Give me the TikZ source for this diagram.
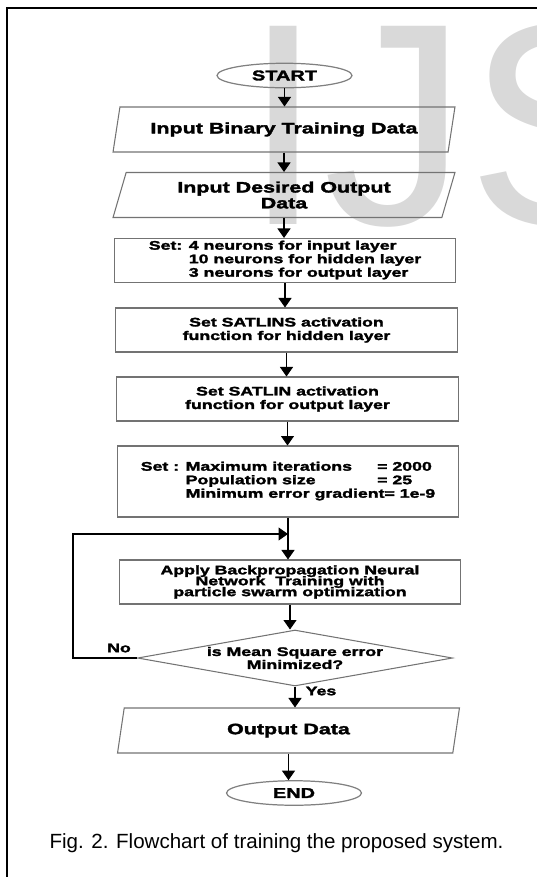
\documentclass[tikz,border=0pt]{standalone}
\usepackage{fontspec}
\setmainfont{Liberation Sans}
\newfontfamily\chartfont{Liberation Sans}[FakeStretch=1.42,FakeBold=2.2]
\usetikzlibrary{shapes.geometric,arrows.meta}

\tikzset{
    box/.style={draw=black!55, line width=.6pt, rectangle, inner sep=0pt, align=center,
        minimum width=6.84cm, minimum height=.88cm,
        font=\chartfont\bfseries\fontsize{7.1}{7.7}\selectfont},
    iobox/.style={draw=black!55, line width=.6pt, trapezium, trapezium left angle=64,
        trapezium right angle=116, trapezium stretches body, inner sep=0pt, align=center,
        minimum width=6.84cm, minimum height=.9cm,
        font=\chartfont\bfseries\fontsize{8.6}{9}\selectfont},
    term/.style={draw=black!50, line width=.7pt, ellipse, inner sep=0pt,
        minimum width=2.7cm, minimum height=.49cm,
        font=\chartfont\bfseries\fontsize{8}{9}\selectfont},
    decide/.style={draw=black!55, line width=.6pt, diamond, aspect=5.6, inner sep=0pt,
        align=center, minimum width=6.3cm, minimum height=1.12cm,
        font=\chartfont\bfseries\fontsize{7.1}{7.4}\selectfont},
    tag/.style={inner sep=0pt, font=\chartfont\bfseries\fontsize{7.1}{7.7}\selectfont},
    flow/.style={-{Triangle[width=7.4pt,length=5.4pt]}, line width=.6pt},
}

\begin{document}
\begin{tikzpicture}[x=0.02cm, y=-0.02cm]
    \useasboundingbox (0, 0) rectangle (537, 877);
    \clip (0, 0) rectangle (537, 877);
    \node[anchor=base west, inner sep=0pt, text=black!15, font=\fontsize{164}{164}\selectfont] (mark) at (243, 224) {IJS};
    \draw[line width=1.4pt] (7, 8) rectangle (560, 900);

    \node[term] (start) at (284.5, 75.5) {START};
    \node[iobox] (bin) at (284, 129.5) {Input Binary Training Data};
    \node[iobox] (want) at (284, 195) {Input Desired Output\\Data};
    \node[box] (layers) at (285, 260.5) {\begin{tabular}{@{}l@{ }l@{}}
            Set: & 4 neurons for input layer\\
                 & 10 neurons for hidden layer\\
                 & 3 neurons for output layer
        \end{tabular}};
    \node[box] (hidden) at (286.5, 330) {Set SATLINS activation\\function for hidden layer};
    \node[box] (outact) at (287.5, 399) {Set SATLIN activation\\function for output layer};
    \node[box, minimum height=1.42cm] (opt) at (288, 481.5) {\begin{tabular}{@{}l@{ }l@{}}
            Set : & \makebox[109pt][l]{Maximum iterations}= 2000\\
                  & \makebox[109pt][l]{Population size}= 25\\
                  & Minimum error gradient= 1e-9
        \end{tabular}};
    \node[box] (train) at (290, 582) {Apply Backpropagation Neural\\[-1.5pt]Network\ \ Training with\\[-1.5pt]particle swarm optimization};
    \node[decide] (check) at (295, 658) {is Mean Square error\\Minimized?};
    \node[iobox] (out) at (288.5, 730.5) {Output Data};
    \node[term] (end) at (294, 793) {END};

    \coordinate (merge) at (288, 534);
    \node[tag] (no) at (119, 648) {No};
    \node[tag] (yes) at (321, 691) {Yes};

    \draw[flow] (start.south) to (start.south |- bin.north);
    \draw[flow] (bin.south) to (bin.south |- want.north);
    \draw[flow] (want.south) to (want.south |- layers.north);
    \draw[flow] (layers.south) to (layers.south |- hidden.north);
    \draw[flow] (hidden.south) to (hidden.south |- outact.north);
    \draw[flow] (outact.south) to (outact.south |- opt.north);
    \draw[flow] (opt.south) to (opt.south |- train.north);
    \draw[flow] (train.south) to (train.south |- check.north);
    \draw[flow] (check.south) to (check.south |- out.north);
    \draw[flow] (out.south) to (out.south |- end.north);
    \draw[flow] (check.west) -- ++(-64, 0) |- (merge);

    \node[anchor=base, inner sep=0pt, font=\fontsize{11.7}{14}\selectfont] (caption) at (276.5, 848) {Fig. 2. Flowchart of training the proposed system.};
\end{tikzpicture}
\end{document}
